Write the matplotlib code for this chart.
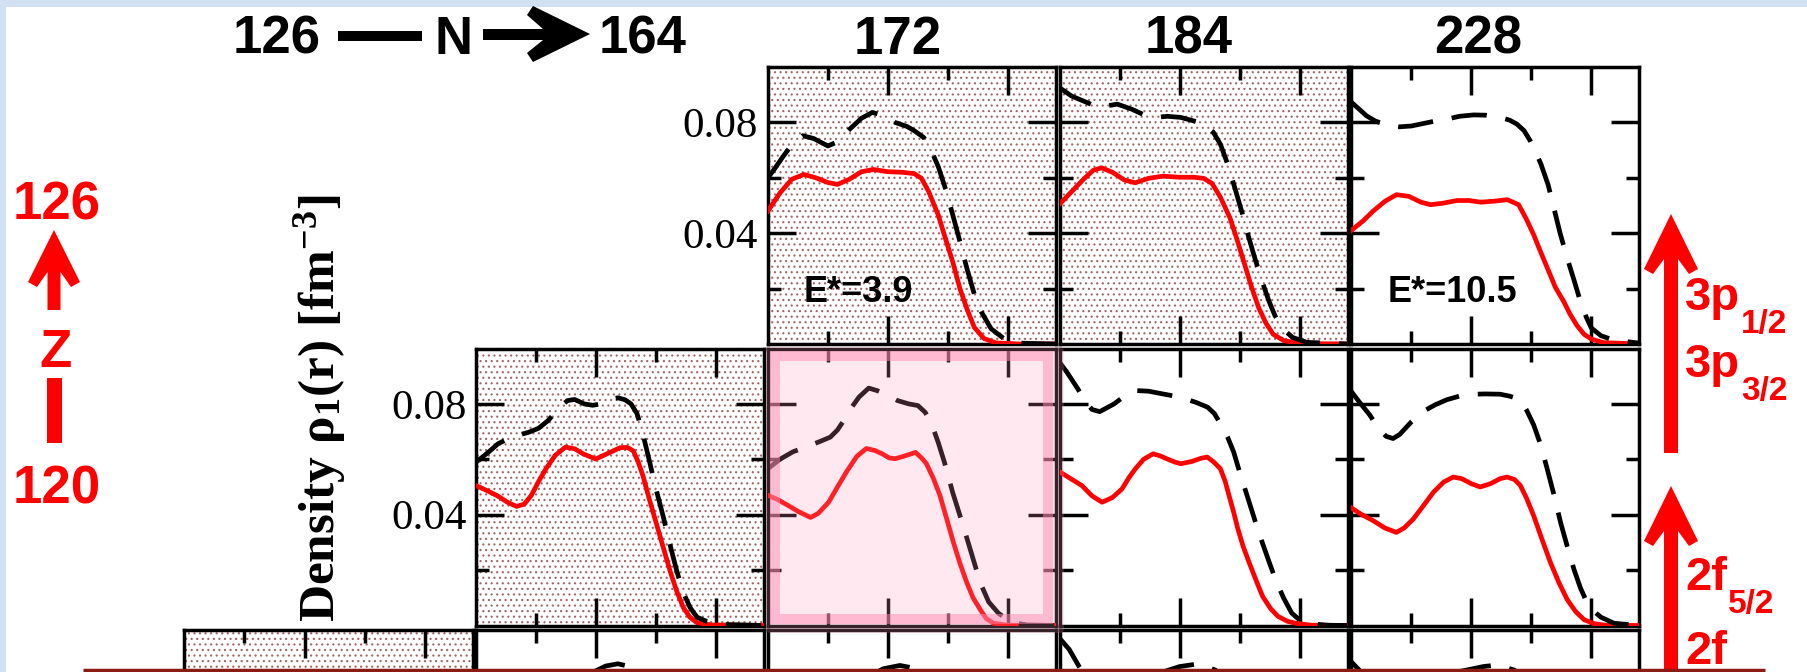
import matplotlib
matplotlib.use("Agg")
import matplotlib.pyplot as plt
from matplotlib.patches import Rectangle, Polygon, FancyBboxPatch

plt.rcParams['mathtext.default'] = 'regular'
plt.rcParams['hatch.linewidth'] = 0.8

W, H = 1808, 672

# neutron numbers over the columns, shell labels at the right
col_labels = ["172", "184", "228"]
excitation = {(0, 2): "E*=3.9", (0, 4): "E*=10.5"}

# densities (r in fm, rho in fm^-3); red = solid, black = dashed
top_172_red = [(0, 0.048), (0.5, 0.0545), (1.0, 0.0595), (1.5, 0.0612), (2.0, 0.0600), (2.5, 0.0583),
               (2.9, 0.0576), (3.4, 0.0595), (3.9, 0.0622), (4.4, 0.0630), (5.0, 0.0622), (5.6, 0.0620),
               (6.1, 0.0615), (6.4, 0.0598), (6.7, 0.0550), (7.1, 0.0465), (7.4, 0.0380), (7.7, 0.0297),
               (8.0, 0.0200), (8.3, 0.0125), (8.6, 0.0060), (9.0, 0.0020), (9.5, 0.0004), (10.5, 0.0), (12, 0.0)]
top_172_black = [(0, 0.060), (0.3, 0.0635), (0.6, 0.0673), (1.0, 0.0720), (1.45, 0.0752), (1.9, 0.0742),
                 (2.5, 0.0715), (2.9, 0.0730), (3.4, 0.0775), (3.9, 0.0815), (4.35, 0.0836), (4.8, 0.0825),
                 (5.3, 0.0800), (5.8, 0.0785), (6.1, 0.0770), (6.5, 0.0745), (6.8, 0.0700), (7.1, 0.0640),
                 (7.4, 0.0560), (7.7, 0.0467), (8.0, 0.0370), (8.3, 0.0270), (8.6, 0.0180), (8.9, 0.0115),
                 (9.3, 0.0055), (9.9, 0.0015), (10.6, 0.0003), (12, 0.0)]

top_184_red = [(0, 0.0505), (0.5, 0.0550), (1.0, 0.0595), (1.4, 0.0627), (1.75, 0.0636), (2.2, 0.0620),
               (2.7, 0.0592), (3.15, 0.0582), (3.7, 0.0598), (4.3, 0.0606), (5.0, 0.0602), (5.6, 0.0602),
               (6.0, 0.0598), (6.35, 0.0580), (6.7, 0.0530), (7.1, 0.0455), (7.4, 0.0375), (7.7, 0.0290),
               (8.0, 0.0205), (8.3, 0.0130), (8.6, 0.0075), (8.9, 0.0035), (9.35, 0.0012), (10.0, 0.0002), (12, 0.0)]
top_184_black = [(0, 0.0925), (0.5, 0.0895), (1.0, 0.0877), (1.5, 0.0858), (2.0, 0.0860), (2.4, 0.0866),
                 (3.0, 0.0848), (3.5, 0.0828), (3.95, 0.0818), (4.5, 0.0822), (5.05, 0.0818), (5.6, 0.0805),
                 (6.0, 0.0794), (6.4, 0.0765), (6.7, 0.0721), (7.0, 0.0650), (7.3, 0.0564), (7.6, 0.0475),
                 (7.85, 0.0394), (8.1, 0.0320), (8.4, 0.0236), (8.7, 0.0160), (8.97, 0.0103), (9.3, 0.0055),
                 (9.7, 0.0024), (10.3, 0.0006), (12, 0.0)]

top_228_red = [(0, 0.0410), (0.5, 0.0445), (0.9, 0.0479), (1.4, 0.0515), (1.88, 0.0539), (2.4, 0.0533),
               (2.9, 0.0512), (3.3, 0.0503), (3.8, 0.0508), (4.4, 0.0518), (4.9, 0.0518), (5.4, 0.0512),
               (6.0, 0.0516), (6.5, 0.0521), (6.97, 0.0503), (7.3, 0.0450), (7.6, 0.0394), (7.9, 0.0330),
               (8.2, 0.0268), (8.5, 0.0205), (8.86, 0.0152), (9.1, 0.0110), (9.4, 0.0067), (9.7, 0.0035),
               (10.0, 0.0018), (10.5, 0.0005), (12, 0.0)]
top_228_black = [(0, 0.0873), (0.3, 0.0850), (0.63, 0.0824), (1.0, 0.0805), (1.5, 0.0790), (2.0, 0.0784),
                 (2.5, 0.0787), (3.0, 0.0796), (3.5, 0.0805), (4.0, 0.0812), (4.5, 0.0822), (5.1, 0.0827),
                 (5.6, 0.0826), (6.2, 0.0818), (6.6, 0.0808), (6.9, 0.0794), (7.2, 0.0770), (7.46, 0.0733),
                 (7.7, 0.0690), (7.9, 0.0650), (8.2, 0.0575), (8.44, 0.0491), (8.7, 0.0400), (9.0, 0.0309),
                 (9.3, 0.0225), (9.55, 0.0152), (9.8, 0.0095), (10.0, 0.0058), (10.4, 0.0030), (10.9, 0.0015),
                 (12, 0.0003)]

mid_164_red = [(0, 0.0505), (0.5, 0.0485), (0.91, 0.0467), (1.3, 0.0445), (1.68, 0.0430), (2.0, 0.0438),
               (2.3, 0.0470), (2.6, 0.0520), (2.9, 0.0565), (3.3, 0.0615), (3.72, 0.0644), (4.1, 0.0638),
               (4.45, 0.0620), (4.98, 0.0601), (5.5, 0.0622), (6.0, 0.0642), (6.3, 0.0643), (6.55, 0.0630),
               (6.75, 0.0590), (6.95, 0.0540), (7.2, 0.0460), (7.5, 0.0370), (7.8, 0.0280), (8.07, 0.0199),
               (8.35, 0.0125), (8.63, 0.0065), (8.9, 0.0030), (9.2, 0.0010), (9.8, 0.0002), (12, 0.0)]
mid_164_black = [(0, 0.0590), (0.5, 0.0625), (0.91, 0.0656), (1.35, 0.0675), (1.75, 0.0687), (2.2, 0.0698),
                 (2.6, 0.0712), (3.0, 0.0740), (3.44, 0.0784), (3.8, 0.0812), (4.1, 0.0816), (4.5, 0.0800),
                 (4.85, 0.0795), (5.2, 0.0800), (5.6, 0.0818), (5.9, 0.0822), (6.2, 0.0815), (6.45, 0.0800),
                 (6.7, 0.0765), (6.95, 0.0690), (7.23, 0.0589), (7.5, 0.0490), (7.79, 0.0394), (8.05, 0.0300),
                 (8.35, 0.0199), (8.6, 0.0125), (8.91, 0.0065), (9.2, 0.0030), (9.6, 0.0015), (10.2, 0.0004),
                 (12, 0.0)]

mid_172_red = [(0, 0.0470), (0.4, 0.0455), (0.85, 0.0433), (1.3, 0.0410), (1.78, 0.0390), (2.1, 0.0405),
               (2.53, 0.0445), (2.9, 0.0500), (3.27, 0.0554), (3.7, 0.0610), (4.1, 0.0639), (4.45, 0.0632),
               (4.76, 0.0620), (5.05, 0.0605), (5.3, 0.0602), (5.7, 0.0612), (6.15, 0.0625), (6.4, 0.0605),
               (6.6, 0.0585), (6.9, 0.0530), (7.17, 0.0469), (7.45, 0.0385), (7.73, 0.0300), (8.0, 0.0225),
               (8.29, 0.0154), (8.55, 0.0100), (8.85, 0.0057), (9.1, 0.0025), (9.4, 0.0008), (10.0, 0.0001),
               (12, 0.0)]
mid_172_black = [(0, 0.0566), (0.5, 0.0600), (1.04, 0.0627), (1.6, 0.0645), (2.16, 0.0664), (2.6, 0.0680),
                 (2.9, 0.0706), (3.2, 0.0745), (3.46, 0.0784), (3.8, 0.0825), (4.2, 0.0857), (4.55, 0.0848),
                 (4.95, 0.0833), (5.4, 0.0812), (5.87, 0.0800), (6.25, 0.0794), (6.55, 0.0770), (6.8, 0.0733),
                 (7.1, 0.0660), (7.36, 0.0588), (7.7, 0.0480), (8.1, 0.0370), (8.5, 0.0255), (8.85, 0.0154),
                 (9.2, 0.0085), (9.6, 0.0045), (10.1, 0.0012), (10.8, 0.0002), (12, 0.0)]

mid_184_red = [(0, 0.0555), (0.5, 0.0528), (0.93, 0.0505), (1.35, 0.0468), (1.77, 0.0445), (2.2, 0.0462),
               (2.6, 0.0493), (2.9, 0.0535), (3.16, 0.0566), (3.5, 0.0600), (3.9, 0.0620), (4.2, 0.0612),
               (4.46, 0.0602), (4.8, 0.0590), (5.05, 0.0584), (5.5, 0.0592), (5.9, 0.0604), (6.15, 0.0608),
               (6.4, 0.0592), (6.7, 0.0566), (6.9, 0.0520), (7.06, 0.0469), (7.25, 0.0410), (7.43, 0.0348),
               (7.65, 0.0285), (7.9, 0.0227), (8.2, 0.0160), (8.46, 0.0105), (8.8, 0.0060), (9.1, 0.0033),
               (9.5, 0.0015), (9.85, 0.0008), (10.5, 0.0001), (12, 0.0)]
mid_184_black = [(0, 0.0950), (0.3, 0.0915), (0.74, 0.0857), (1.1, 0.0805), (1.35, 0.0780), (1.67, 0.0772),
                 (1.95, 0.0785), (2.27, 0.0800), (2.7, 0.0828), (3.2, 0.0848), (3.7, 0.0846), (4.3, 0.0836),
                 (4.8, 0.0828), (5.24, 0.0818), (5.7, 0.0805), (6.17, 0.0788), (6.45, 0.0765), (6.69, 0.0730),
                 (7.0, 0.0680), (7.25, 0.0627), (7.55, 0.0540), (7.9, 0.0445), (8.3, 0.0335), (8.74, 0.0227),
                 (9.0, 0.0165), (9.33, 0.0100), (9.67, 0.0045), (10.0, 0.0020), (10.5, 0.0006), (11.2, 0.0001),
                 (12, 0.0)]

mid_228_red = [(0, 0.0425), (0.4, 0.0402), (0.9, 0.0379), (1.4, 0.0352), (1.88, 0.0336), (2.2, 0.0352),
               (2.58, 0.0384), (3.0, 0.0432), (3.42, 0.0481), (3.85, 0.0518), (4.25, 0.0536), (4.6, 0.0530),
               (5.0, 0.0512), (5.37, 0.0500), (5.8, 0.0512), (6.2, 0.0530), (6.49, 0.0536), (6.8, 0.0527),
               (7.04, 0.0506), (7.3, 0.0460), (7.6, 0.0396), (7.95, 0.0310), (8.3, 0.0227), (8.65, 0.0155),
               (9.0, 0.0093), (9.35, 0.0050), (9.7, 0.0021), (10.1, 0.0007), (10.6, 0.0001), (12, 0.0)]
mid_228_black = [(0, 0.0845), (0.35, 0.0805), (0.77, 0.0760), (1.1, 0.0715), (1.45, 0.0683), (1.74, 0.0675),
                 (2.02, 0.0690), (2.5, 0.0735), (3.0, 0.0773), (3.5, 0.0797), (3.98, 0.0815), (4.5, 0.0828),
                 (5.09, 0.0835), (5.6, 0.0836), (6.2, 0.0835), (6.6, 0.0828), (7.04, 0.0815), (7.3, 0.0778),
                 (7.6, 0.0724), (7.9, 0.0650), (8.16, 0.0566), (8.45, 0.0470), (8.72, 0.0372), (9.0, 0.0285),
                 (9.28, 0.0202), (9.55, 0.0135), (9.83, 0.0081), (10.1, 0.0052), (10.4, 0.0030), (10.95, 0.0008),
                 (12, 0.0)]

# lowest row: only the tops of the dashed curves reach into view
low_164_black = [(0, 0.062), (1.0, 0.066), (2.0, 0.070), (3.0, 0.075), (4.0, 0.080), (4.8, 0.0845),
                 (5.4, 0.0870), (5.9, 0.0878), (6.4, 0.0868), (6.9, 0.0830), (7.3, 0.0750), (7.8, 0.0580),
                 (8.4, 0.0350), (9.0, 0.0150), (9.6, 0.0050), (10.4, 0.0010), (12, 0.0)]
low_172_black = [(0, 0.060), (1.0, 0.064), (2.0, 0.069), (3.0, 0.076), (4.0, 0.082), (4.8, 0.0860),
                 (5.5, 0.0872), (6.1, 0.0862), (6.6, 0.0830), (7.1, 0.0760), (7.6, 0.0620), (8.2, 0.0400),
                 (8.8, 0.0190), (9.4, 0.0070), (10.2, 0.0012), (12, 0.0)]
low_184_black = [(0, 0.0970), (0.4, 0.0930), (0.8, 0.0870), (1.2, 0.0815), (1.6, 0.0790), (2.2, 0.0795),
                 (3.0, 0.0815), (4.0, 0.0840), (5.0, 0.0868), (5.8, 0.0878), (6.5, 0.0855), (7.0, 0.0800),
                 (7.5, 0.0680), (8.1, 0.0470), (8.8, 0.0240), (9.5, 0.0080), (10.3, 0.0015), (12, 0.0)]
low_228_black = [(0, 0.0885), (0.5, 0.0840), (1.2, 0.0770), (1.8, 0.0745), (2.5, 0.0765), (3.3, 0.0800),
                 (4.5, 0.0850), (5.5, 0.0868), (6.1, 0.0874), (6.8, 0.0855), (7.4, 0.0800), (7.9, 0.0700),
                 (8.5, 0.0520), (9.2, 0.0300), (9.9, 0.0120), (10.6, 0.0030), (12, 0.0)]

# (row, column, solid curve, dashed curve, stippled background)
panels = [
    (0, 2, top_172_red, top_172_black, True),
    (0, 3, top_184_red, top_184_black, True),
    (0, 4, top_228_red, top_228_black, False),
    (1, 1, mid_164_red, mid_164_black, True),
    (1, 2, mid_172_red, mid_172_black, False),
    (1, 3, mid_184_red, mid_184_black, False),
    (1, 4, mid_228_red, mid_228_black, False),
    (2, 0, None, None, True),
    (2, 1, None, low_164_black, False),
    (2, 2, None, low_172_black, False),
    (2, 3, None, low_184_black, False),
    (2, 4, None, low_228_black, False),
]
# panels whose y tick labels are in view
labelled = {(0, 2), (1, 1)}

# panel geometry in pixels
col_x = [184.5 + 291.7 * i for i in range(5)]
row_y = [67, 348.5, 630]
pw, ph = 288, 277

fig = plt.figure(figsize=(W / 100, H / 100), dpi=100)
fig.patch.set_facecolor("white")


def px_axes(x, y, w, h, **kw):
    return fig.add_axes([x / W, 1 - (y + h) / H, w / W, h / H], **kw)


for row, col, red, black, dotted in panels:
    ax = px_axes(col_x[col], row_y[row], pw, ph, zorder=1)
    ax.set_xlim(0, 12)
    ax.set_ylim(0, 0.10)
    if dotted:
        ax.add_patch(Rectangle((0, 0), 1, 1, transform=ax.transAxes, facecolor="white",
                               edgecolor="#a06464", lw=0, hatch="...", zorder=0))
    if red is not None:
        ax.plot([p[0] for p in red], [p[1] for p in red], color="red", lw=3.4,
                solid_joinstyle="round", zorder=3)
    if black is not None:
        ax.plot([p[0] for p in black], [p[1] for p in black], color="black", lw=3.4,
                linestyle=(0, (7.5, 4.0)), zorder=4)
    ax.set_xticks([5, 10])
    ax.set_xticks([2.5, 7.5], minor=True)
    ax.set_yticks([0.04, 0.08])
    ax.set_yticks([0.02, 0.06], minor=True)
    ax.tick_params(which="both", direction="in", top=True, right=True, width=2.5,
                   labelbottom=False, labelleft=((row, col) in labelled))
    ax.tick_params(which="major", length=20)
    ax.tick_params(which="minor", length=9.5)
    ax.tick_params(axis="y", pad=7)
    ax.set_yticklabels(["0.04", "0.08"])
    for lab in ax.get_yticklabels():
        lab.set_family("Liberation Serif")
        lab.set_fontsize(31)
    for s in ax.spines.values():
        s.set_linewidth(2.5)
    if (row, col) in excitation:
        ax.text(0.125, 0.152, excitation[(row, col)], transform=ax.transAxes, fontsize=26,
                fontweight="bold", family="Liberation Sans", va="baseline", zorder=5)

# overlay in pixel coordinates for the annotations
ov = fig.add_axes([0, 0, 1, 1], zorder=10)
ov.set_xlim(0, W)
ov.set_ylim(H, 0)
ov.axis("off")
renderer = fig.canvas.get_renderer()

# slide background strips
ov.add_patch(Rectangle((0, 0), W, 7, facecolor="#d2e1f1", lw=0))
ov.add_patch(Rectangle((0, 0), 6, H, facecolor="#d2e1f1", lw=0))


def label(x, y, s, size, color="black", ha="center"):
    return ov.text(x, y, s, ha=ha, va="baseline", fontsize=size, fontweight="bold",
                   family="Liberation Sans", color=color)


# N axis at the top
label(277, 54, "126", 38)
ov.add_patch(Rectangle((338, 31), 84, 10, facecolor="black", lw=0))
label(454, 54, "N", 38)
ov.add_patch(Polygon([(483, 29), (543, 29), (527, 15), (533, 6), (590, 34), (533, 62),
                      (527, 53), (543, 40), (483, 40)], closed=True, facecolor="black", lw=0))
label(643, 54, "164", 38)
for cx, txt in zip([898, 1189, 1478], col_labels):
    label(cx, 54, txt, 38)


def up_arrow(x, tip, bottom, hl=54, hw=26, sw=13):
    pts = [(x, tip), (x + hw, tip + hl), (x + hw - 9, tip + hl + 5), (x + sw / 2, tip + hl - 10),
           (x + sw / 2, bottom), (x - sw / 2, bottom), (x - sw / 2, tip + hl - 10),
           (x - hw + 9, tip + hl + 5), (x - hw, tip + hl)]
    ov.add_patch(Polygon(pts, closed=True, facecolor="red", lw=0))


# Z axis on the left
label(57, 220, "126", 38, "red")
up_arrow(54, 230, 310, hl=52)
label(56, 367, "Z", 38, "red")
ov.add_patch(Rectangle((47, 378), 15, 65, facecolor="red", lw=0))
label(57, 503, "120", 38, "red")

# shell labels on the right
up_arrow(1671, 214, 453, hl=55, hw=27, sw=14)
up_arrow(1671, 486, 700, hl=55, hw=27, sw=14)
shells = [(310, "3p", "1/2"), (377, "3p", "3/2"), (590, "2f", "5/2"), (664, "2f", "")]
for base, main, sub in shells:
    t = label(1685, base, main, 34, "red", ha="left")
    if sub:
        bb = t.get_window_extent(renderer)
        sx = ov.transData.inverted().transform((bb.x1, bb.y0))[0]
        label(sx + 1, base + 23, sub, 24, "red", ha="left")

# y-axis title
fig.text(320 / W, 1 - 408 / H, "Density ρ$_1$(r) [fm$^{-3}$]", rotation=90, ha="center", va="center",
         fontsize=37, fontweight="bold", family="Liberation Serif", zorder=11)

# highlighted panel (N=172, middle row)
ov.add_patch(FancyBboxPatch((766, 347), 298, 286, boxstyle="round,pad=0,rounding_size=5",
                            facecolor=(1.0, 0.6, 0.72, 0.22), edgecolor="none"))
ov.add_patch(Rectangle((775.5, 355.5), 273, 263, facecolor="none",
                       edgecolor=(1.0, 0.55, 0.7, 0.5), lw=7.2))

# slide rule at the bottom
ov.plot([83, 1765], [669.5, 669.5], color="#8b1c13", lw=2.5, solid_capstyle="butt")

fig.savefig("out.png", dpi=100)
